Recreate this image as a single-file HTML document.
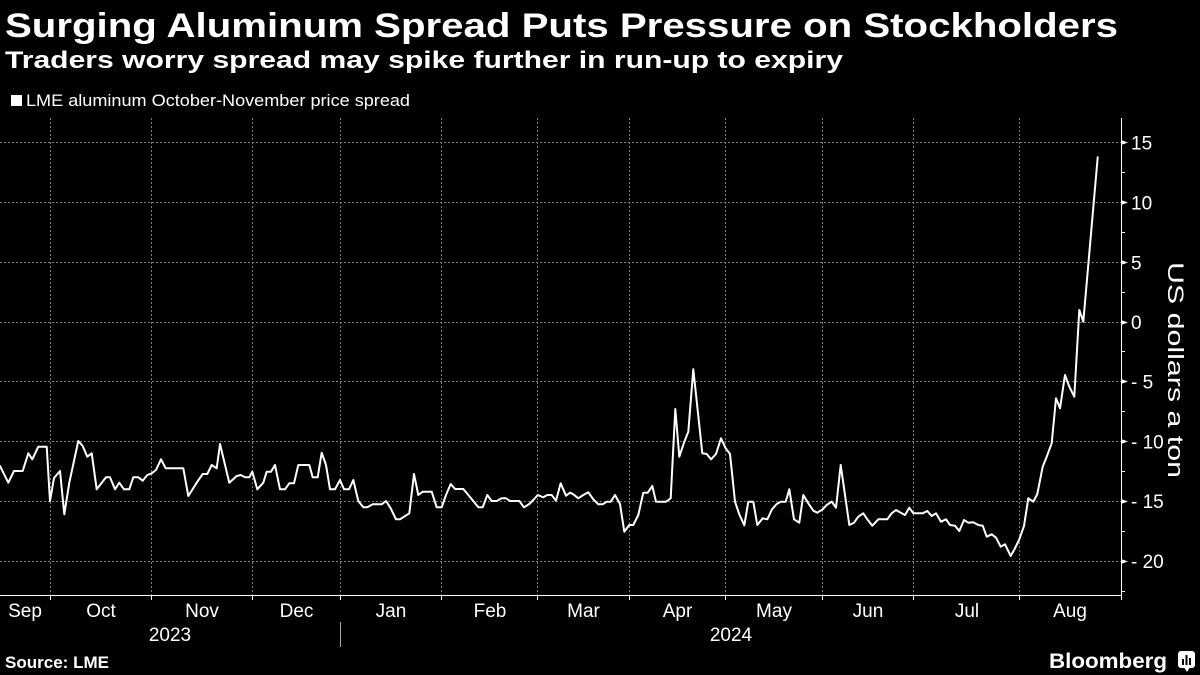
<!DOCTYPE html>
<html>
<head>
<meta charset="utf-8">
<style>
  html,body{margin:0;padding:0;background:#000;}
  svg{display:block;}
  text{font-family:"Liberation Sans",sans-serif;fill:#fff;}
</style>
</head>
<body>
<svg width="1200" height="675" viewBox="0 0 1200 675" xmlns="http://www.w3.org/2000/svg">
  <rect x="0" y="0" width="1200" height="675" fill="#000"/>

  <!-- Title & subtitle -->
  <text x="5" y="37" font-size="34" font-weight="bold" textLength="1113" lengthAdjust="spacingAndGlyphs">Surging Aluminum Spread Puts Pressure on Stockholders</text>
  <text x="5" y="68" font-size="24" font-weight="bold" textLength="838" lengthAdjust="spacingAndGlyphs">Traders worry spread may spike further in run-up to expiry</text>

  <!-- Legend -->
  <rect x="11" y="95" width="11" height="11" fill="#fff"/>
  <text x="26" y="106" font-size="17" textLength="384" lengthAdjust="spacingAndGlyphs">LME aluminum October-November price spread</text>

  <!-- Horizontal gridlines -->
  <g stroke="#7a7a7a" stroke-width="1" stroke-dasharray="2 2" fill="none">
    <line x1="0" y1="142.5" x2="1121" y2="142.5"/>
    <line x1="0" y1="202.5" x2="1121" y2="202.5"/>
    <line x1="0" y1="262.5" x2="1121" y2="262.5"/>
    <line x1="0" y1="322.5" x2="1121" y2="322.5"/>
    <line x1="0" y1="381.5" x2="1121" y2="381.5"/>
    <line x1="0" y1="441.5" x2="1121" y2="441.5"/>
    <line x1="0" y1="501.5" x2="1121" y2="501.5"/>
    <line x1="0" y1="561.5" x2="1121" y2="561.5"/>
  </g>
  <!-- Vertical gridlines -->
  <g stroke="#7a7a7a" stroke-width="1" stroke-dasharray="2 2" fill="none">
    <line x1="50.5" y1="118" x2="50.5" y2="595"/>
    <line x1="151.5" y1="118" x2="151.5" y2="595"/>
    <line x1="252.5" y1="118" x2="252.5" y2="595"/>
    <line x1="340.5" y1="118" x2="340.5" y2="595"/>
    <line x1="441.5" y1="118" x2="441.5" y2="595"/>
    <line x1="537.5" y1="118" x2="537.5" y2="595"/>
    <line x1="629.5" y1="118" x2="629.5" y2="595"/>
    <line x1="725.5" y1="118" x2="725.5" y2="595"/>
    <line x1="822.5" y1="118" x2="822.5" y2="595"/>
    <line x1="913.5" y1="118" x2="913.5" y2="595"/>
    <line x1="1019.5" y1="118" x2="1019.5" y2="595"/>
  </g>

  <!-- Axes -->
  <g stroke="#fff" stroke-width="1" fill="none">
    <line x1="0" y1="595.5" x2="1121.5" y2="595.5"/>
    <line x1="1121.5" y1="118" x2="1121.5" y2="596"/>
    <line x1="50.5" y1="595" x2="50.5" y2="600"/>
    <line x1="151.5" y1="595" x2="151.5" y2="600"/>
    <line x1="252.5" y1="595" x2="252.5" y2="600"/>
    <line x1="340.5" y1="595" x2="340.5" y2="600"/>
    <line x1="441.5" y1="595" x2="441.5" y2="600"/>
    <line x1="537.5" y1="595" x2="537.5" y2="600"/>
    <line x1="629.5" y1="595" x2="629.5" y2="600"/>
    <line x1="725.5" y1="595" x2="725.5" y2="600"/>
    <line x1="822.5" y1="595" x2="822.5" y2="600"/>
    <line x1="913.5" y1="595" x2="913.5" y2="600"/>
    <line x1="1019.5" y1="595" x2="1019.5" y2="600"/>
    <line x1="1121.5" y1="595" x2="1121.5" y2="600"/>
    <line x1="1121" y1="172.5" x2="1125" y2="172.5"/>
    <line x1="1121" y1="232.5" x2="1125" y2="232.5"/>
    <line x1="1121" y1="292.5" x2="1125" y2="292.5"/>
    <line x1="1121" y1="351.5" x2="1125" y2="351.5"/>
    <line x1="1121" y1="411.5" x2="1125" y2="411.5"/>
    <line x1="1121" y1="471.5" x2="1125" y2="471.5"/>
    <line x1="1121" y1="531.5" x2="1125" y2="531.5"/>
    <line x1="1121" y1="591.5" x2="1125" y2="591.5"/>
  </g>
  <g fill="#fff">
    <polygon points="1121,140 1128,142.5 1121,145"/>
    <polygon points="1121,200 1128,202.5 1121,205"/>
    <polygon points="1121,260 1128,262.5 1121,265"/>
    <polygon points="1121,320 1128,322.5 1121,325"/>
    <polygon points="1121,379 1128,381.5 1121,384"/>
    <polygon points="1121,439 1128,441.5 1121,444"/>
    <polygon points="1121,499 1128,501.5 1121,504"/>
    <polygon points="1121,559 1128,561.5 1121,564"/>
  </g>

  <!-- Y tick labels -->
  <g font-size="19">
    <text x="1131" y="149.5">15</text>
    <text x="1131" y="209.5">10</text>
    <text x="1131" y="269.5">5</text>
    <text x="1131" y="329">0</text>
    <text x="1131" y="388.5">- 5</text>
    <text x="1131" y="448.5">- 10</text>
    <text x="1131" y="508">- 15</text>
    <text x="1131" y="568">- 20</text>
  </g>

  <!-- Y axis title -->
  <text font-size="22" text-anchor="middle" textLength="216" lengthAdjust="spacingAndGlyphs" transform="translate(1168,370) rotate(90)">US dollars a ton</text>

  <!-- Month labels -->
  <g font-size="19" text-anchor="middle">
    <text x="25" y="617">Sep</text>
    <text x="101" y="617">Oct</text>
    <text x="202" y="617">Nov</text>
    <text x="296.5" y="617">Dec</text>
    <text x="391" y="617">Jan</text>
    <text x="490" y="617">Feb</text>
    <text x="583.5" y="617">Mar</text>
    <text x="677.5" y="617">Apr</text>
    <text x="774" y="617">May</text>
    <text x="868" y="617">Jun</text>
    <text x="967" y="617">Jul</text>
    <text x="1070" y="617">Aug</text>
    <text x="170" y="641">2023</text>
    <text x="731" y="641">2024</text>
  </g>
  <line x1="340.5" y1="622" x2="340.5" y2="647" stroke="#aaa" stroke-width="1"/>

  <!-- Series -->
  <polyline fill="none" stroke="#fff" stroke-width="2" stroke-linejoin="round" stroke-linecap="round" points="
0,466 8.3,482.7 14,471 22.7,471 28.3,453.3 32.3,459.3 38.3,446.7 46.7,446.7 50,501 54,478 60,471 64.3,514.3 69.3,482.7 78.3,441 82.7,446 87.3,456.7 91.7,453.3 96.7,489.3 106,477.3 110,477.3 115,489.3 119.3,482.7 124,489.3 129.3,489.3 133.3,477.3 138.3,477.3 142.7,480.7 147.3,475 151.7,473.3 156,470 161,459.3 165.7,468.3 183.3,468.3 188.3,496 196.7,482.7 202.7,474 207.3,474 211.7,465 216.7,468.3 220,444 229.3,482.7 236.7,476 240.7,475 245,477.3 249.3,477.3 252.3,471.7 257.3,489.3 263.3,482.7 266.7,471.7 271,471.7 275,465
280,489.3 285,489.3 289.3,483.3 294,483.3 298.3,465 309.3,465 312.7,477.3 317.7,477.3 321.7,452.7 326,465 330,489.3 335,489.3 340,480 344,489.3 349,489.3 353.3,480 358.3,501 363.3,507.3 367.3,507.3 372.7,504.3 381.7,504.3 386,501 390.7,508.3 396,519.3 400,519.3 409.3,513.3 414,474 418.3,495 422.7,491.7 431.7,491.7 436.7,507.3 441.7,507.3 446,495 450.7,484 455,489 463.3,489 468.3,495 473.3,501 478.3,507.3 482.7,507.3 487.3,495 491.7,501 496.7,501 501.7,498.3 506,498.3 510,501 519.3,501 524,507.3 529.3,504 533.3,500 537.7,495
543.3,497.3 547.3,495 551.7,495 556,500.7 560.7,483.3 566,495.7 570,492.7 573.3,494.3 578.3,498.3 583.3,495 588.3,492.3 593.3,499.3 598.3,504.3 602.7,504.3 606.7,501.7 610.7,501.7 615,495 620,504 624.3,531.7 629.3,525 633.3,525 638.3,515 643.3,492.7 647.7,492.7 652.3,486 656,501.7 666,501.7 670.7,498.3 675.3,409 679.3,456.7 684.3,441.7 688.3,431.7 693.3,369.3 697.3,406.7 702.3,453.3 706.7,454 711,459.3 716,454 721,438.3 725.7,448.3 730,454 735,501.7 739.3,514.3 744.3,525.3 748.3,501.7 753.3,501.7 757.3,525 762.7,518.3 767.3,519.3 772,509.3 776.7,504 780.7,501.7 785.7,501.7 789.3,489.3 794,519.3 799.3,522.7 803.3,495 808.3,503.3 813.3,510.7
817.3,512.7 822.7,509.3 826.7,505 831.7,501.7 836,507.7 840.7,465 845,495 849.3,525 854,522.7 858.3,516.7 863.3,513.3 867.3,519.3 872.3,525.7 878.3,519.3 887.3,519.3 891.7,513.3 896,510 900.7,512.7 905,515 909.3,507.7 913.3,513.3 922.7,513.3 927.3,511 931.7,516 936,513.3 941,521.7 946,519.3 950,525 955,525.7 959.3,531 964,520 968.3,522.7 973.3,522.3 978.3,525 982.7,525.7 986.7,536.7 991.7,534.3 996,537.7 1000.7,546.7 1005,544.3 1010.7,556 1015,548.3 1019.3,539.3 1024,526 1028.3,498.3 1033.3,501.7 1037.3,494
1042.7,466.7 1046.7,456.7 1051.7,443.3 1056,398.3 1060,408.3 1065,375 1069.3,386.7 1074.3,396.7 1079.3,310 1083.3,321.7 1097.7,157.3"/>

  <!-- Footer -->
  <text x="5" y="668" font-size="17" font-weight="bold" textLength="104" lengthAdjust="spacingAndGlyphs">Source: LME</text>
  <text x="1049" y="668" font-size="21" font-weight="bold" textLength="118" lengthAdjust="spacingAndGlyphs">Bloomberg</text>
  <g>
    <rect x="1178" y="651" width="17" height="17" rx="3" fill="#fff"/>
    <polygon points="1184,667 1187,672 1190,667" fill="#fff"/>
    <rect x="1182" y="659" width="2" height="6" fill="#000"/>
    <rect x="1185.5" y="655" width="2" height="10" fill="#000"/>
    <rect x="1189" y="658" width="2" height="7" fill="#000"/>
  </g>
</svg>
</body>
</html>
